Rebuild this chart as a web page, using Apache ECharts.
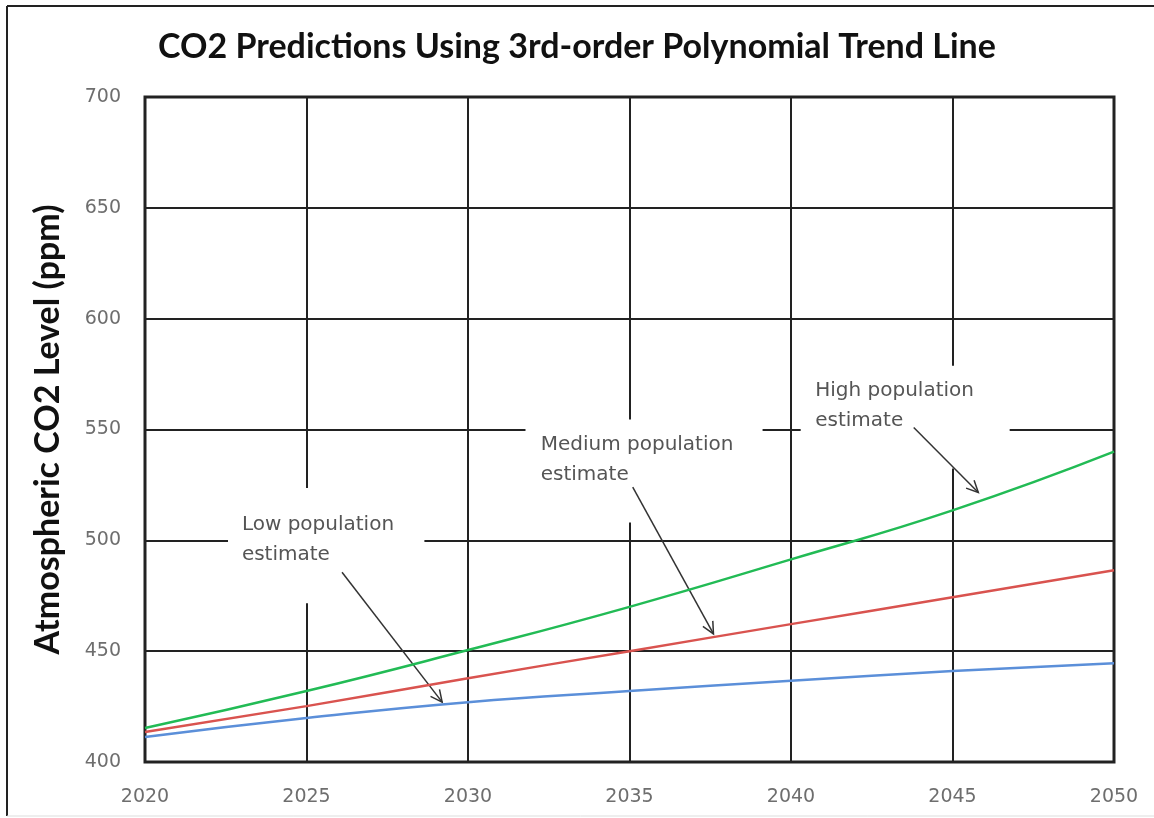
<!DOCTYPE html>
<html>
<head>
<meta charset="utf-8">
<script src="https://cdn.jsdelivr.net/npm/echarts@6/dist/echarts.min.js"></script>
<style>
  html, body { margin: 0; padding: 0; background: #fff; }
  #co2chart { width: 1154px; height: 818px; }
</style>
</head>
<body>
<div id="co2chart"></div>
<script>
// values (ppm)
const years = [2020, 2025, 2030, 2035, 2040, 2045, 2050];
const lowPop = [411.3, 419.8, 427.0, 432.0, 436.7, 441.0, 444.5];
const medPop = [413.5, 425.2, 437.8, 450.0, 462.2, 474.3, 486.5];
const highPop = [415.3, 432.0, 450.5, 470.0, 491.4, 513.5, 540.0];

const xTicks = [2020, 2050, 5];
const yTicks = [400, 700, 50];

// callouts, all in data coords (year, ppm)
const noteText = ['Low population\nestimate', 'Medium population\nestimate', 'High population\nestimate'];
const noteAt = [[2023.0, 513.5], [2032.25, 549.5], [2040.75, 574.0]];
const noteBox = [
  [[2022.57, 523.6], [2028.65, 471.6]],
  [[2031.78, 554.5], [2039.12, 508.1]],
  [[2040.3, 578.8], [2046.77, 532.4]]
];
const arrowFrom = [[2026.1, 485.6], [2035.1, 524.0], [2043.8, 550.9]];
const arrowTo = [[2029.2, 427.0], [2037.6, 457.8], [2045.8, 521.6]];

function pairs(ys) {
  return years.map(function (y, i) { return [y, ys[i]]; });
}

let myChart = echarts.init(document.getElementById('co2chart'));
let option = {
  backgroundColor: '#fff',
  animation: false,
  title: {
    text: 'CO2 Predictions Using 3rd-order Polynomial Trend Line',
    left: 'center',
    top: 25,
    textStyle: { fontFamily: 'Lato', fontWeight: 'bold', fontSize: 34, color: '#111' }
  },
  grid: {
    left: 145, right: 40, top: 97, bottom: 56,
    show: true, borderColor: '#222', borderWidth: 3
  },
  xAxis: {
    type: 'value',
    min: xTicks[0], max: xTicks[1], interval: xTicks[2],
    axisLine: { show: false },
    axisTick: { show: false },
    axisLabel: {
      margin: 26, color: '#6e6e6e', fontFamily: 'DejaVu Sans', fontSize: 19,
      formatter: function (v) { return String(v); }
    },
    splitLine: { show: true, lineStyle: { color: '#222', width: 2 } }
  },
  yAxis: {
    type: 'value',
    min: yTicks[0], max: yTicks[1], interval: yTicks[2],
    name: 'Atmospheric CO2 Level (ppm)',
    nameLocation: 'middle',
    nameGap: 80,
    nameTextStyle: { fontFamily: 'Lato', fontWeight: 'bold', fontSize: 34, color: '#111' },
    axisLine: { show: false },
    axisTick: { show: false },
    axisLabel: { margin: 24, color: '#6e6e6e', fontFamily: 'DejaVu Sans', fontSize: 19 },
    splitLine: { show: true, lineStyle: { color: '#222', width: 2 } }
  },
  series: [
    { name: 'High', type: 'line', data: pairs(highPop), smooth: true, showSymbol: false,
      lineStyle: { color: '#22bb55', width: 2.5 }, z: 5 },
    { name: 'Medium', type: 'line', data: pairs(medPop), smooth: true, showSymbol: false,
      lineStyle: { color: '#d9534f', width: 2.5 }, z: 5 },
    { name: 'Low', type: 'line', data: pairs(lowPop), smooth: true, showSymbol: false,
      lineStyle: { color: '#5b8fd9', width: 2.5 }, z: 5 }
  ]
};
myChart.setOption(option);

function px(p) {
  return myChart.convertToPixel({ gridIndex: 0 }, p);
}

function drawNotes() {
  let els = [
    // outer frame of the picture
    { type: 'line', shape: { x1: 7, y1: 6, x2: 1154, y2: 6 }, style: { stroke: '#222', lineWidth: 2 } },
    { type: 'line', shape: { x1: 7, y1: 6, x2: 7, y2: 816 }, style: { stroke: '#222', lineWidth: 2 } },
    { type: 'line', shape: { x1: 7, y1: 816, x2: 1154, y2: 816 }, style: { stroke: '#ddd', lineWidth: 1 } }
  ];
  for (let i = 0; i < noteText.length; i++) {
    let a = px(noteBox[i][0]), b = px(noteBox[i][1]);
    els.push({
      type: 'rect', z: 3,
      shape: { x: a[0], y: a[1], width: b[0] - a[0], height: b[1] - a[1] },
      style: { fill: '#fff' }
    });
    let t = px(noteAt[i]);
    els.push({
      type: 'text', z: 4, x: t[0], y: t[1] - 1,
      style: {
        text: noteText[i], fill: '#555', font: '20px "DejaVu Sans"',
        lineHeight: 30, textVerticalAlign: 'top'
      }
    });
    let p0 = px(arrowFrom[i]), p1 = px(arrowTo[i]);
    let ang = Math.atan2(p1[1] - p0[1], p1[0] - p0[0]);
    let len = 13, spread = 0.45;
    els.push({
      type: 'line', z: 4,
      shape: { x1: p0[0], y1: p0[1], x2: p1[0], y2: p1[1] },
      style: { stroke: '#333', lineWidth: 1.5 }
    });
    els.push({
      type: 'polyline', z: 4,
      shape: { points: [
        [p1[0] - len * Math.cos(ang - spread), p1[1] - len * Math.sin(ang - spread)],
        [p1[0], p1[1]],
        [p1[0] - len * Math.cos(ang + spread), p1[1] - len * Math.sin(ang + spread)]
      ] },
      style: { stroke: '#333', lineWidth: 1.5, fill: null }
    });
  }
  myChart.setOption({ graphic: { elements: els } });
}
drawNotes();
</script>
</body>
</html>
